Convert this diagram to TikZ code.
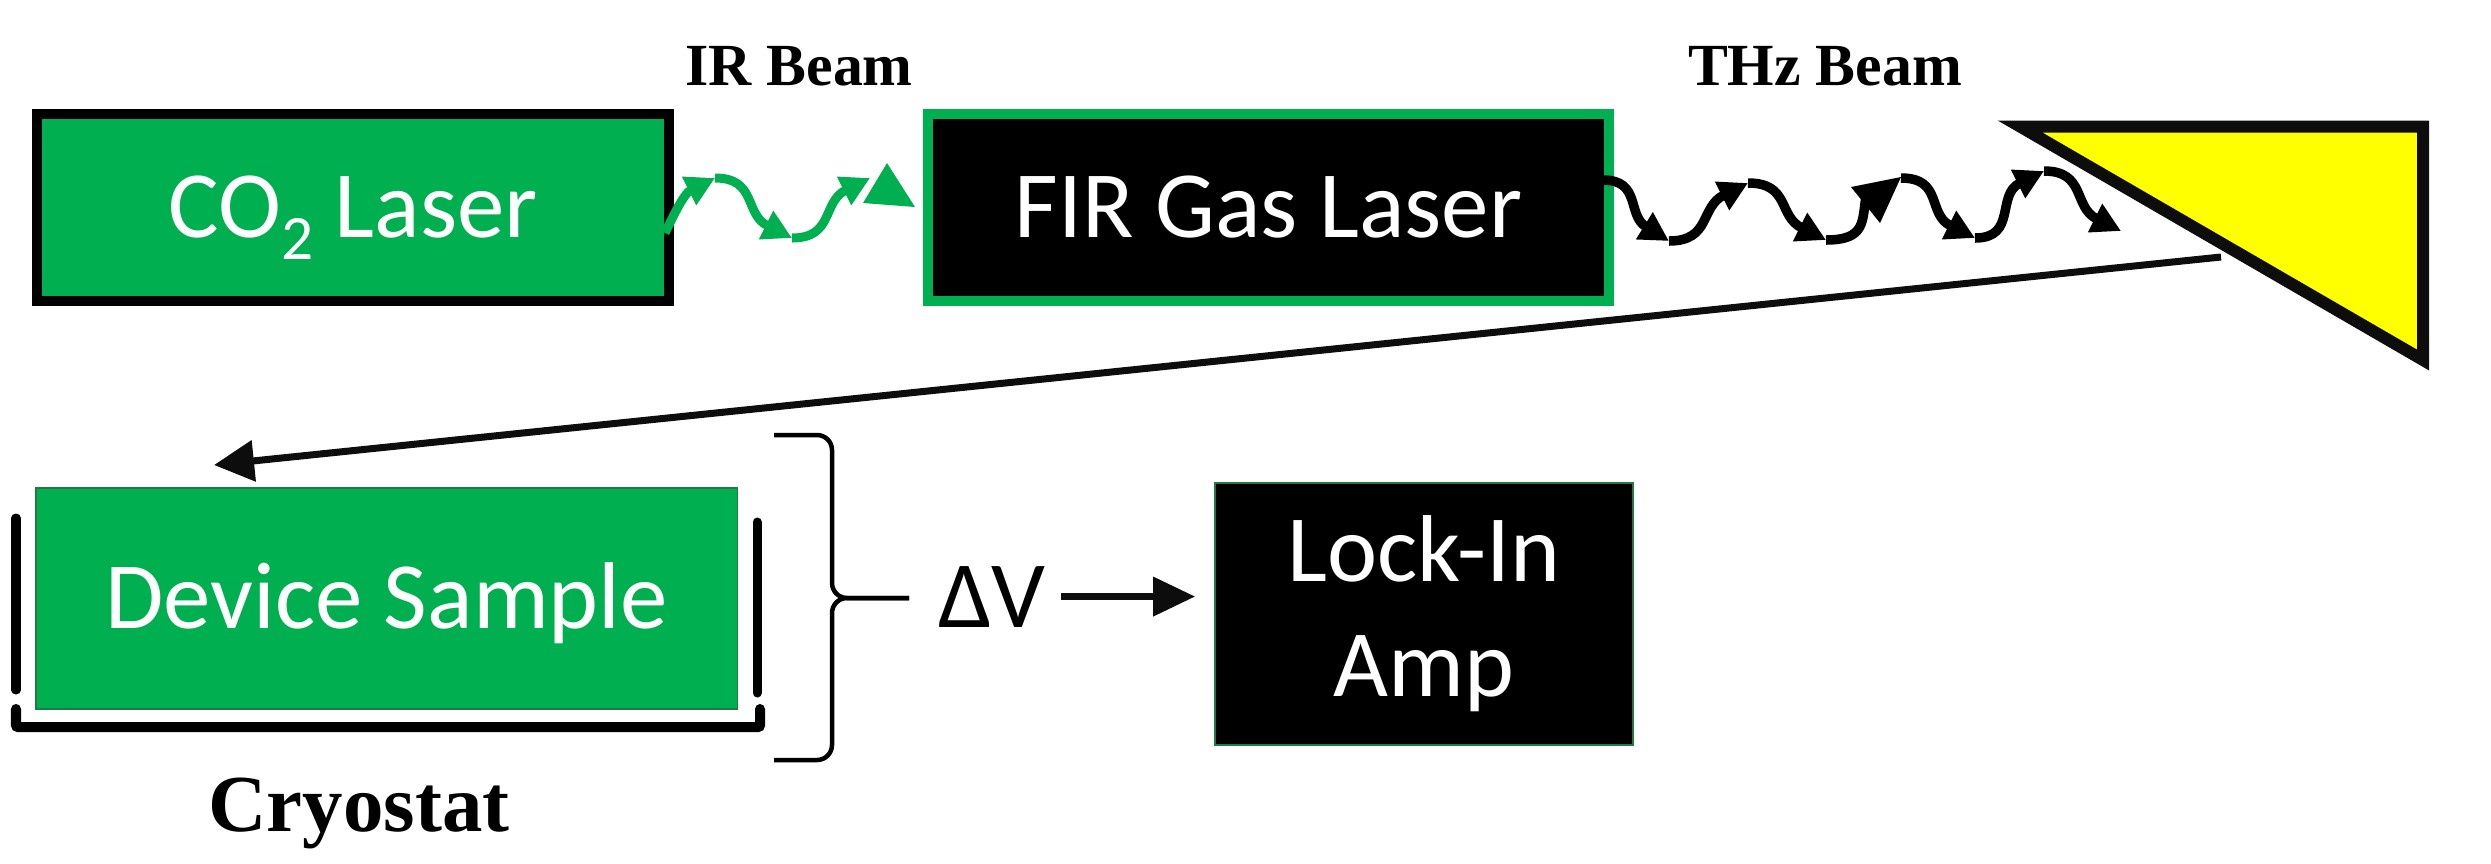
\documentclass[tikz,border=0pt]{standalone}
\usepackage{fontspec}
\setmainfont{Liberation Serif}
\setsansfont{Carlito}
\usepackage{xcolor}
\definecolor{lasergreen}{HTML}{00B050}
\definecolor{edgegreen}{HTML}{1E7B45}
\definecolor{prismyellow}{HTML}{FFFF00}
\definecolor{ink}{HTML}{0D0D0D}
\usetikzlibrary{arrows.meta}
\newcommand{\boxfont}{\sffamily\fontsize{27}{32.7}\selectfont}

\begin{document}
\begin{tikzpicture}[
  x=0.01cm, y=-0.01cm,
  laser/.style={line width=0.1cm, text=white, font=\boxfont,
                minimum height=1.87cm, text height=0.6cm, text depth=0pt},
  instr/.style={draw=edgegreen, thin, text=white, font=\boxfont, align=center},
  beamlabel/.style={font=\bfseries\fontsize{17}{20}\selectfont, anchor=base},
  irwave/.style={lasergreen, line width=0.09cm, -{Triangle[length=0.29cm,width=0.3cm]}},
  thzwave/.style={black, line width=0.095cm, -{Triangle[length=0.29cm,width=0.3cm]}},
  ray/.style={ink, line width=0.07cm, -{Triangle[length=0.4cm,width=0.4cm]}},
  cryo/.style={line width=0.09cm, line cap=round},
  brace/.style={line width=0.045cm, rounded corners=0.15cm},
  prism/.style={draw=ink, line width=0.12cm, fill=prismyellow}
]
  \useasboundingbox (0,0) rectangle (2491,863);

  % sources
  \node[laser, draw=black, fill=lasergreen, minimum width=6.32cm] (co2) at (353,207.5)
        {CO\raisebox{-0.23em}[0pt][0pt]{\fontsize{18}{18}\selectfont 2} Laser};
  \node[laser, draw=lasergreen, fill=black, minimum width=6.81cm] (fir) at (1268.5,207.5)
        {FIR Gas Laser};

  \node[beamlabel] (irlabel)  at (799,85)  {IR Beam};
  \node[beamlabel] (thzlabel) at (1825,85) {THz Beam};

  % mirror
  \coordinate (pa) at (2020,126.5);
  \coordinate (pb) at (2423,126.5);
  \coordinate (pc) at (2423,360);
  \draw[prism] (pa) -- (pb) -- (pc) -- cycle;

  % IR beam
  \coordinate (ir0) at (665,233);
  \coordinate (ir1) at (715,178);
  \coordinate (ir2) at (792,238);
  \coordinate (ir3) at (870,178);
  \draw[irwave] (ir0) .. controls +(12,-25) and +(-30,15) .. (ir1);
  \draw[irwave] (ir1) .. controls +(42,0) and +(-48,-24) .. (ir2);
  \draw[irwave] (ir2) .. controls +(42,0) and +(-48,24) .. (ir3);
  \fill[lasergreen] (887,163) -- (915,207) -- (863,203) -- cycle;

  % THz beam
  \coordinate (th0) at (1603,180);
  \coordinate (th1) at (1669,241);
  \coordinate (th2) at (1748,183);
  \coordinate (th3) at (1826,240);
  \coordinate (th3b) at (1866,196);
  \coordinate (th4) at (1901,178);
  \coordinate (th5) at (1975,238);
  \coordinate (th6) at (2044,171);
  \coordinate (th7) at (2121,231);
  \draw[thzwave] (th0) .. controls +(38,0) and +(-42,-26) .. (th1);
  \draw[thzwave] (th1) .. controls +(42,0) and +(-48,24) .. (th2);
  \draw[thzwave] (th2) .. controls +(42,0) and +(-48,-24) .. (th3);
  \draw[black, line width=0.095cm] (th3) .. controls +(40,0) and +(-4,25) .. (th3b);
  \fill[black] (1851,187) -- (1901,177) -- (1880,223) -- cycle;
  \draw[thzwave] (th4) .. controls +(42,0) and +(-48,-24) .. (th5);
  \draw[thzwave] (th5) .. controls +(42,0) and +(-48,24) .. (th6);
  \draw[thzwave] (th6) .. controls +(42,0) and +(-48,-24) .. (th7);

  % reflected beam onto the sample
  \coordinate (rayout) at (2221,257);
  \coordinate (rayin)  at (214,465);
  \draw[ray] (rayout) -- (rayin);

  % cryostat
  \node[instr, fill=lasergreen, minimum width=7.01cm, minimum height=2.21cm,
        text height=0.6cm, text depth=0pt] (sample) at (386.5,598.5) {Device Sample};
  \draw[cryo] (16,518) -- (16,690);
  \draw[cryo, line width=0.1cm, rounded corners=0.02cm] (16,709) -- (16,727) -- (760,727) -- (760,709);
  \draw[cryo] (757,522) -- (757,693);
  \node[font=\bfseries\fontsize{23}{26}\selectfont, anchor=base] (cryolabel) at (359,831) {Cryostat};

  % voltage read-out
  \draw[brace] (774,435) -| (832,598) -- (909,598);
  \draw[brace] (774,760) -| (832,598) -- (909,598);
  \node[font=\boxfont, inner sep=0.15cm, anchor=base] (dv) at (992,627) {ΔV};
  \node[instr, fill=black, minimum width=4.18cm, minimum height=2.62cm] (lockin) at (1424,614)
        {Lock-In\\Amp};
  \draw[ink, line width=0.07cm, -{Triangle[length=0.42cm,width=0.38cm]}, shorten >=0.19cm]
        (dv.east) -- (dv.east -| lockin.west);
\end{tikzpicture}
\end{document}
